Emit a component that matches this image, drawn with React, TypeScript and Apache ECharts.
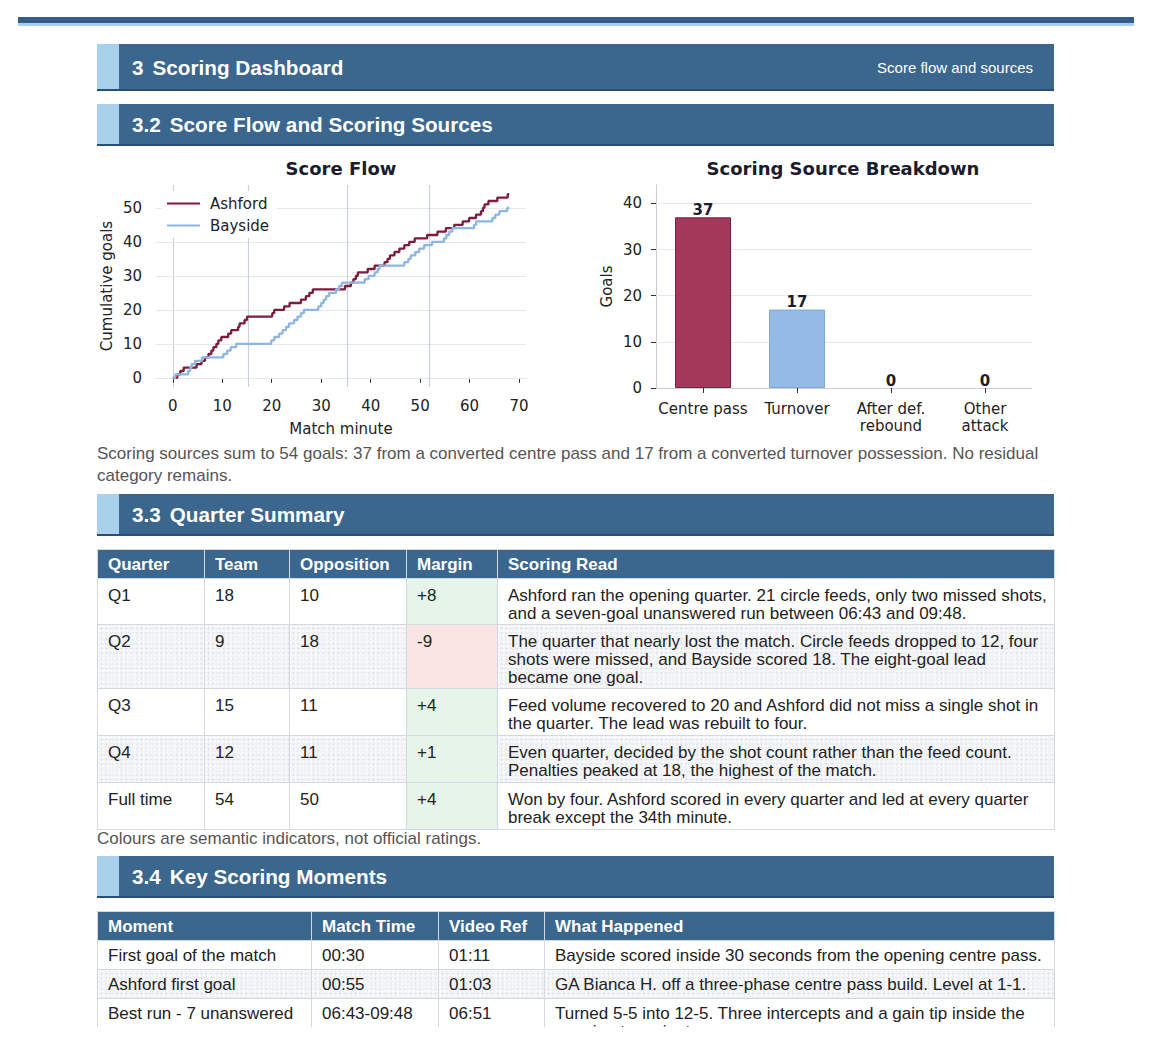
import React, { useEffect, useRef } from "react";
import * as echarts from "echarts";

// ---------------- data ----------------
const MATCH_END_MINUTE = 68;
const ASHFORD_GOAL_MINUTES = [
  0.9, 1.5, 2.2, 4.8, 5.8, 6.5, 7.2, 7.8, 8.2, 8.8, 9.2, 9.8, 11.2, 11.8, 13.2, 13.5, 14.5, 15.0,
  20.1, 20.5, 22.5, 23.6, 25.9, 26.9, 27.6, 28.3, 34.8,
  36.0, 36.5, 37.0, 37.4, 39.4, 40.8, 42.8, 43.4, 43.9, 44.8, 45.8, 46.8, 47.8, 48.9, 51.4,
  53.5, 55.2, 56.9, 58.6, 59.9, 61.3, 62.3, 62.7, 63.0, 63.8, 65.6, 67.7,
];
const BAYSIDE_GOAL_MINUTES = [
  0.5, 3.1, 3.5, 3.8, 4.5, 5.9, 10.2, 11.0, 11.7, 12.8,
  19.9, 20.5, 21.5, 22.2, 22.9, 23.5, 24.5, 25.2, 25.9, 26.5, 29.4, 30.0, 30.5, 31.0, 31.6, 33.0, 33.6, 34.2,
  38.8, 39.6, 40.8, 41.4, 41.8, 46.8, 47.6, 48.1, 49.0, 49.8, 50.8,
  52.4, 54.8, 55.3, 55.9, 56.5, 60.9, 61.3, 64.6, 65.2, 66.0, 67.6,
];
const QUARTER_BREAK_MINUTES = [15.3, 35.2, 51.9];
const FLOW_X_TICKS = [0, 10, 20, 30, 40, 50, 60, 70];
const FLOW_Y_TICKS = [0, 10, 20, 30, 40, 50];

const SOURCE_CATEGORIES = ["Centre pass", "Turnover", "After def.\nrebound", "Other\nattack"];
const SOURCE_GOALS = [37, 17, 0, 0];
const SOURCE_Y_TICKS = [0, 10, 20, 30, 40];

const QUARTER_HEAD = ["Quarter", "Team", "Opposition", "Margin", "Scoring Read"];
const QUARTER_NAMES = ["Q1", "Q2", "Q3", "Q4", "Full time"];
const QUARTER_TEAM = ["18", "9", "15", "12", "54"];
const QUARTER_OPP = ["10", "18", "11", "11", "50"];
const QUARTER_MARGIN = ["+8", "-9", "+4", "+1", "+4"];
const QUARTER_READ = [
  "Ashford ran the opening quarter. 21 circle feeds, only two missed shots, and a seven-goal unanswered run between 06:43 and 09:48.",
  "The quarter that nearly lost the match. Circle feeds dropped to 12, four shots were missed, and Bayside scored 18. The eight-goal lead became one goal.",
  "Feed volume recovered to 20 and Ashford did not miss a single shot in the quarter. The lead was rebuilt to four.",
  "Even quarter, decided by the shot count rather than the feed count. Penalties peaked at 18, the highest of the match.",
  "Won by four. Ashford scored in every quarter and led at every quarter break except the 34th minute.",
];

const MOMENT_HEAD = ["Moment", "Match Time", "Video Ref", "What Happened"];
const MOMENT_NAMES = ["First goal of the match", "Ashford first goal", "Best run - 7 unanswered"];
const MOMENT_TIMES = ["00:30", "00:55", "06:43-09:48"];
const MOMENT_VIDEO = ["01:11", "01:03", "06:51"];
const MOMENT_TEXT = [
  "Bayside scored inside 30 seconds from the opening centre pass.",
  "GA Bianca H. off a three-phase centre pass build. Level at 1-1.",
  "Turned 5-5 into 12-5. Three intercepts and a gain tip inside the opening ten minutes.",
];

// ---------------- style ----------------
const BLUE = "#3b668e";
const LIGHT = "#a8d2ec";
const ASH = "#7d1b3d";
const BAY = "#8db6e2";
const CF = "DejaVu Sans";

function cumulative(minutes: number[]) {
  const pts: number[][] = [[0, 0]];
  minutes.forEach((m, i) => pts.push([m, i + 1]));
  pts.push([MATCH_END_MINUTE, minutes.length]);
  return pts;
}

function gridLines(axis: "xAxis" | "yAxis", values: number[], color: string, width: number) {
  return {
    silent: true,
    z: 1,
    symbol: ["none", "none"],
    label: { show: false },
    emphasis: { disabled: true },
    lineStyle: { type: "solid", color, width },
    data: values.map((v) => ({ [axis]: v })),
  };
}

function buildOption() {
  const tickLabel = { fontFamily: CF, fontSize: 15, color: "#222" };
  const nameStyle = { fontFamily: CF, fontSize: 15, color: "#222" };
  return {
    animation: false,
    textStyle: { fontFamily: CF },
    graphic: [
      { type: "text", x: 244, y: 20, style: { text: "Score Flow", textAlign: "center", textVerticalAlign: "middle", font: `bold 18px "${CF}"`, fill: "#1c1c2c" } },
      { type: "text", x: 746, y: 20, style: { text: "Scoring Source Breakdown", textAlign: "center", textVerticalAlign: "middle", font: `bold 18px "${CF}"`, fill: "#1c1c2c" } },
    ],
    legend: {
      data: ["Ashford", "Bayside"],
      orient: "vertical",
      left: 65,
      top: 43,
      icon: "rect",
      itemWidth: 33,
      itemHeight: 2.2,
      itemGap: 7,
      padding: [5, 8, 5, 5],
      backgroundColor: "#ffffff",
      textStyle: { fontFamily: CF, fontSize: 15, color: "#222", padding: [0, 0, 0, 5] },
      z: 10,
    },
    grid: [
      { left: 59, top: 37, width: 370, height: 202 },
      { left: 559, top: 37, width: 376, height: 203 },
    ],
    xAxis: [
      {
        type: "value", gridIndex: 0, min: -3.4, max: 71.4,
        axisLine: { show: true, lineStyle: { color: "#c8ced6" } },
        axisTick: { show: true, customValues: FLOW_X_TICKS, length: 5, lineStyle: { color: "#333" } },
        axisLabel: { ...tickLabel, customValues: FLOW_X_TICKS, margin: 11 },
        splitLine: { show: false },
        name: "Match minute", nameLocation: "middle", nameGap: 34,
        nameTextStyle: nameStyle,
      },
      {
        type: "category", gridIndex: 1, data: SOURCE_CATEGORIES,
        axisLine: { show: true, lineStyle: { color: "#c8ced6" } },
        axisTick: { show: true, alignWithLabel: true, length: 5, lineStyle: { color: "#333" } },
        axisLabel: { ...tickLabel, margin: 12, interval: 0, lineHeight: 17 },
        splitLine: { show: false },
      },
    ],
    yAxis: [
      {
        type: "value", gridIndex: 0, min: -2.7, max: 56.7,
        axisLine: { show: true, lineStyle: { color: "#c8ced6" } },
        axisTick: { show: true, customValues: FLOW_Y_TICKS, length: 5, lineStyle: { color: "#333" } },
        axisLabel: { ...tickLabel, customValues: FLOW_Y_TICKS, margin: 14 },
        splitLine: { show: false },
        name: "Cumulative goals", nameLocation: "middle", nameGap: 42,
        nameTextStyle: nameStyle,
      },
      {
        type: "value", gridIndex: 1, min: 0, max: 44,
        axisLine: { show: true, lineStyle: { color: "#c8ced6" } },
        axisTick: { show: true, customValues: SOURCE_Y_TICKS, length: 5, lineStyle: { color: "#333" } },
        axisLabel: { ...tickLabel, customValues: SOURCE_Y_TICKS, margin: 14 },
        splitLine: { show: false },
        name: "Goals", nameLocation: "middle", nameGap: 42,
        nameTextStyle: nameStyle,
      },
    ],
    series: [
      {
        type: "line", name: "_grid0", xAxisIndex: 0, yAxisIndex: 0, z: 1,
        data: [[0, 0]], symbol: "none", lineStyle: { width: 0 },
        markLine: gridLines("yAxis", FLOW_Y_TICKS, "#e4e7eb", 1),
      },
      {
        type: "line", name: "_quarters", xAxisIndex: 0, yAxisIndex: 0, z: 1,
        data: [[0, 0]], symbol: "none", lineStyle: { width: 0 },
        markLine: gridLines("xAxis", QUARTER_BREAK_MINUTES, "#cbd2da", 1.2),
      },
      {
        type: "line", name: "_grid1", xAxisIndex: 1, yAxisIndex: 1, z: 1,
        data: [], symbol: "none", lineStyle: { width: 0 },
        markLine: gridLines("yAxis", SOURCE_Y_TICKS.slice(1), "#e4e7eb", 1),
      },
      {
        type: "line", name: "Ashford", xAxisIndex: 0, yAxisIndex: 0, z: 3,
        step: "end", data: cumulative(ASHFORD_GOAL_MINUTES), symbol: "none", showSymbol: false,
        lineStyle: { color: ASH, width: 2.3 }, itemStyle: { color: ASH },
      },
      {
        type: "line", name: "Bayside", xAxisIndex: 0, yAxisIndex: 0, z: 4,
        step: "end", data: cumulative(BAYSIDE_GOAL_MINUTES), symbol: "none", showSymbol: false,
        lineStyle: { color: BAY, width: 2.3 }, itemStyle: { color: BAY },
      },
      {
        type: "bar", name: "Sources", xAxisIndex: 1, yAxisIndex: 1, z: 3, barWidth: 56,
        data: SOURCE_GOALS.map((v, i) => ({
          value: v,
          itemStyle: {
            color: i % 2 === 0 ? "#a3385b" : "#93bbe6",
            borderColor: i % 2 === 0 ? "#7f1d3f" : "#7fa8d6",
            borderWidth: v > 0 ? 1 : 0,
          },
        })),
        label: { show: true, position: "top", distance: 0, fontFamily: CF, fontWeight: "bold", fontSize: 15, color: "#1c1c2c" },
      },
    ],
  };
}

function Charts() {
  const ref = useRef<HTMLDivElement>(null);
  useEffect(() => {
    const chart = echarts.init(ref.current!, null, { renderer: "svg" });
    chart.setOption(buildOption() as any);
    return () => chart.dispose();
  }, []);
  return <div ref={ref} style={{ position: "absolute", left: 97, top: 148, width: 957, height: 294 }} />;
}

const TF = '"Liberation Sans", Arial, Helvetica, sans-serif';

function Header({ top, height, num, title, right }: { top: number; height: number; num: string; title: string; right?: string }) {
  return (
    <div style={{ position: "absolute", left: 97, top, width: 957, height, background: BLUE, borderBottom: "2px solid #2a4f74", boxSizing: "border-box" }}>
      <div style={{ position: "absolute", left: 0, top: 0, width: 22, height: "100%", background: LIGHT }} />
      <div style={{ position: "absolute", left: 35, top: 1, height: "100%", display: "flex", alignItems: "center", color: "#fff", fontFamily: TF, fontWeight: "bold", fontSize: 20.7, whiteSpace: "nowrap" }}>
        <span>{num}</span><span style={{ marginLeft: 9 }}>{title}</span>
      </div>
      {right ? (
        <div style={{ position: "absolute", right: 21, top: 1, height: "100%", display: "flex", alignItems: "center", color: "#fff", fontFamily: TF, fontSize: 15 }}>{right}</div>
      ) : null}
    </div>
  );
}

const cellBase: React.CSSProperties = {
  border: "1px solid #d3d9e1",
  padding: "8px 10px 0 10px",
  verticalAlign: "top",
  lineHeight: "18px",
  fontSize: 17,
  color: "#222",
  textAlign: "left",
  boxSizing: "border-box",
};
const headCell: React.CSSProperties = {
  ...cellBase,
  background: BLUE,
  color: "#fff",
  fontWeight: "bold",
  padding: "1px 10px 0 10px",
  verticalAlign: "middle",
};
const GRAY_ROW = "#f1f2f5";
const GRAY_TEXTURE =
  "radial-gradient(circle at 1px 1px, rgba(255,255,255,0.9) 0.8px, transparent 1.3px), radial-gradient(circle at 3px 3px, rgba(214,219,228,0.7) 0.9px, transparent 1.4px)";

function grayBg(gray: boolean): React.CSSProperties {
  return gray
    ? { backgroundColor: GRAY_ROW, backgroundImage: GRAY_TEXTURE, backgroundSize: "4px 4px, 5px 5px" }
    : { backgroundColor: "#fff" };
}

function QuarterTable() {
  const widths = [107, 85, 117, 91, 557];
  const heights = [46, 64, 47, 47, 47];
  return (
    <table style={{ position: "absolute", left: 97, top: 549, width: 957, borderCollapse: "collapse", tableLayout: "fixed", fontFamily: TF }}>
      <colgroup>{widths.map((w, i) => <col key={i} style={{ width: w }} />)}</colgroup>
      <thead>
        <tr style={{ height: 29 }}>{QUARTER_HEAD.map((h) => <th key={h} style={headCell}>{h}</th>)}</tr>
      </thead>
      <tbody>
        {QUARTER_NAMES.map((q, i) => {
          const bg = grayBg(i % 2 === 1);
          const mbg = QUARTER_MARGIN[i].startsWith("-") ? "#fbe4e4" : "#e6f4ea";
          return (
            <tr key={q} style={{ height: heights[i] }}>
              <td style={{ ...cellBase, ...bg }}>{q}</td>
              <td style={{ ...cellBase, ...bg }}>{QUARTER_TEAM[i]}</td>
              <td style={{ ...cellBase, ...bg }}>{QUARTER_OPP[i]}</td>
              <td style={{ ...cellBase, backgroundColor: mbg }}>{QUARTER_MARGIN[i]}</td>
              <td style={{ ...cellBase, ...bg, paddingRight: 6 }}>{QUARTER_READ[i]}</td>
            </tr>
          );
        })}
      </tbody>
    </table>
  );
}

function MomentTable() {
  const widths = [214, 127, 106, 510];
  return (
    <table style={{ position: "absolute", left: 97, top: 911, width: 957, borderCollapse: "collapse", tableLayout: "fixed", fontFamily: TF }}>
      <colgroup>{widths.map((w, i) => <col key={i} style={{ width: w }} />)}</colgroup>
      <thead>
        <tr style={{ height: 29 }}>{MOMENT_HEAD.map((h) => <th key={h} style={headCell}>{h}</th>)}</tr>
      </thead>
      <tbody>
        {MOMENT_NAMES.map((m, i) => {
          const c = { ...cellBase, ...grayBg(i % 2 === 1), paddingTop: 6 };
          return (
            <tr key={m} style={{ height: 29 }}>
              <td style={c}>{m}</td>
              <td style={c}>{MOMENT_TIMES[i]}</td>
              <td style={c}>{MOMENT_VIDEO[i]}</td>
              <td style={c}>{MOMENT_TEXT[i]}</td>
            </tr>
          );
        })}
      </tbody>
    </table>
  );
}

export default function App() {
  return (
    <div style={{ position: "absolute", left: 0, top: 0, width: 1152, height: 1027, overflow: "hidden", background: "#fff", fontFamily: TF }}>
      <div style={{ position: "absolute", left: 18, top: 17, width: 1116, height: 6, background: "#325e89" }} />
      <div style={{ position: "absolute", left: 18, top: 23, width: 1116, height: 3, background: LIGHT }} />
      <Header top={44} height={47} num="3" title="Scoring Dashboard" right="Score flow and sources" />
      <Header top={104} height={42} num="3.2" title="Score Flow and Scoring Sources" />
      <Charts />
      <div style={{ position: "absolute", left: 97, top: 443, width: 957, fontSize: 17, lineHeight: "22px", color: "#555" }}>
        Scoring sources sum to 54 goals: 37 from a converted centre pass and 17 from a converted turnover possession. No residual category remains.
      </div>
      <Header top={494} height={42} num="3.3" title="Quarter Summary" />
      <QuarterTable />
      <div style={{ position: "absolute", left: 97, top: 830, fontSize: 17, lineHeight: "18px", color: "#555" }}>
        Colours are semantic indicators, not official ratings.
      </div>
      <Header top={856} height={42} num="3.4" title="Key Scoring Moments" />
      <MomentTable />
    </div>
  );
}
